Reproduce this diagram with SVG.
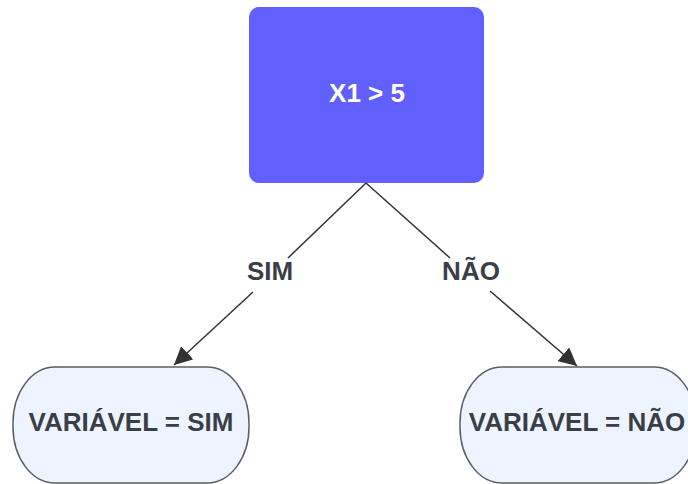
<svg xmlns="http://www.w3.org/2000/svg" width="688" height="484" viewBox="0 0 688 484">
<style>
.lbl{font-family:"Liberation Sans",Arial,sans-serif;font-weight:bold;font-size:26px;fill:#3a3f47;text-anchor:middle;dominant-baseline:central}
.leaf{fill:#edf4ff;stroke:#5a5f66;stroke-width:1.5}
.conn{stroke:#333;stroke-width:1.5;fill:none}
</style>
<defs>
<marker id="arr" viewBox="0 0 10 10" refX="10" refY="5" markerWidth="18" markerHeight="18" markerUnits="userSpaceOnUse" orient="auto">
<path d="M0,0 L10,5 L0,10 z" fill="#333"/>
</marker>
</defs>
<rect width="688" height="484" fill="#fff"/>
<g id="root">
<rect x="249" y="7" width="235" height="176" rx="10" fill="#6160fe"/>
<text x="367" y="93" class="lbl" style="fill:#fff">X1 &gt; 5</text>
</g>
<g id="leaf-sim">
<rect x="13" y="367" width="236" height="116" rx="42" ry="56" class="leaf"/>
<text x="131" y="422" class="lbl">VARIÁVEL = SIM</text>
</g>
<g id="leaf-nao">
<rect x="460" y="367" width="236" height="116" rx="42" ry="56" class="leaf"/>
<text x="577" y="422" class="lbl">VARIÁVEL = NÃO</text>
</g>
<g id="connectors">
<path class="conn" d="M366,183 L288,258"/>
<path class="conn" d="M253,292 L174,365" marker-end="url(#arr)"/>
<path class="conn" d="M366,183 L450,258"/>
<path class="conn" d="M490,291 L577,366" marker-end="url(#arr)"/>
<text x="270" y="271" class="lbl">SIM</text>
<text x="471" y="271" class="lbl">NÃO</text>
</g>
</svg>
